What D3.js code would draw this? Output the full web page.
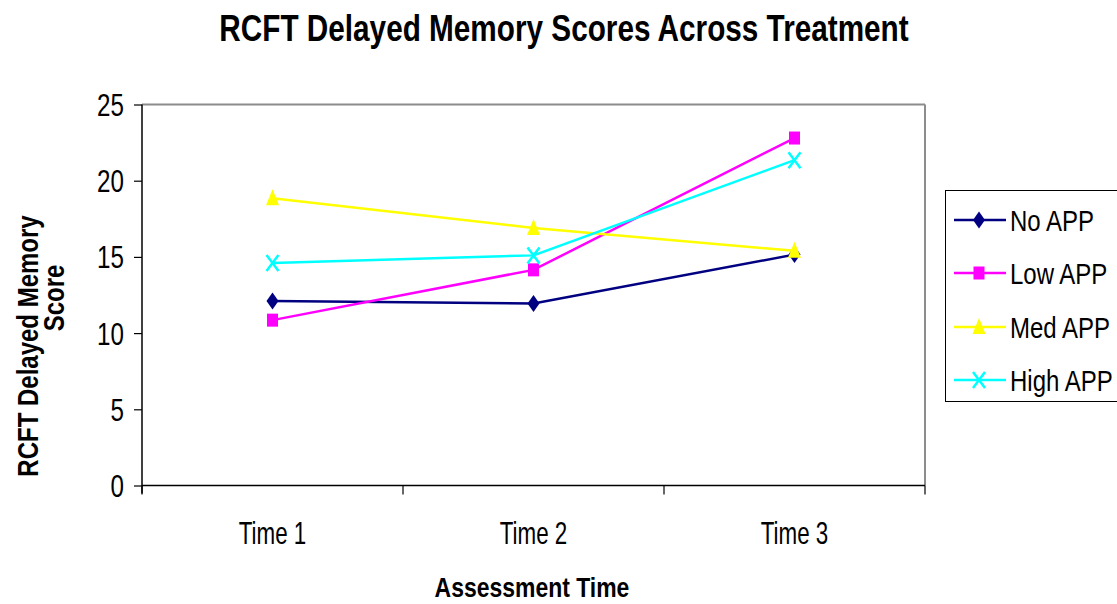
<!DOCTYPE html>
<html>
<head>
<meta charset="utf-8">
<script src="https://cdn.jsdelivr.net/npm/d3@7"></script>
<style>
  html, body { margin: 0; padding: 0; background: #fff; }
  svg { display: block; font-family: "Liberation Sans", Arial, sans-serif; }
</style>
</head>
<body>
<svg id="chart" width="1117" height="604"></svg>
<script>
// Assessment points and group scores
const categories = ["Time 1", "Time 2", "Time 3"];
const seriesNames = ["No APP", "Low APP", "Med APP", "High APP"];
const noApp   = [12.1, 11.95, 15.15];
const lowApp  = [10.85, 14.15, 22.8];
const medApp  = [18.85, 16.9, 15.4];
const highApp = [14.6, 15.1, 21.35];
const yTicks = [0, 5, 10, 15, 20, 25];

const seriesValues = [noApp, lowApp, medApp, highApp];
const seriesColors = ["#000080", "#ff00ff", "#ffff00", "#00ffff"];
const seriesMarkers = ["diamond", "square", "triangle", "cross"];

const svg = d3.select("#chart");
const plot = { left: 142, right: 925, top: 104.5, bottom: 485.5 };

const x = d3.scaleBand().domain(categories).range([plot.left, plot.right]).padding(0);
const y = d3.scaleLinear().domain([0, 25]).range([plot.bottom, plot.top]);

// Condensed text helper: horizontal squeeze to mimic a narrow face
function label(parent, tx, ty, str, opts) {
  const g = parent.append("g")
    .attr("transform", `translate(${tx},${ty}) rotate(${opts.rotate || 0}) scale(${opts.sx},1)`);
  g.append("text")
    .attr("text-anchor", opts.anchor || "middle")
    .attr("font-size", opts.size)
    .attr("font-weight", opts.bold ? "bold" : "normal")
    .attr("fill", "#000")
    .text(str);
  return g;
}

// Plot frame: grey top/right edges
svg.append("line").attr("x1", plot.left).attr("x2", plot.right)
  .attr("y1", plot.top).attr("y2", plot.top).attr("stroke", "#8c8c8c").attr("stroke-width", 2);
svg.append("line").attr("x1", plot.right).attr("x2", plot.right)
  .attr("y1", plot.top).attr("y2", plot.bottom).attr("stroke", "#8c8c8c").attr("stroke-width", 2);

// Y axis
const yAxis = svg.append("g").attr("transform", `translate(${plot.left},0)`)
  .call(d3.axisLeft(y).tickValues(yTicks).tickSize(8).tickFormat(""));
yAxis.select(".domain").attr("stroke", "#000").attr("stroke-width", 1.5).attr("d", `M0,${plot.top}V${plot.bottom + 8}`);
yAxis.selectAll(".tick line").attr("stroke", "#000").attr("stroke-width", 1.2);
yTicks.forEach(t => label(svg, 124, y(t) + 11.5, String(t), { size: 31, sx: 0.78, anchor: "end" }));

// X axis with ticks at category boundaries
const boundaries = categories.map(c => x(c)).concat([plot.right]);
svg.append("line").attr("x1", plot.left).attr("x2", plot.right)
  .attr("y1", plot.bottom).attr("y2", plot.bottom).attr("stroke", "#000").attr("stroke-width", 1.5);
svg.selectAll(".xtick").data(boundaries).enter().append("line")
  .attr("class", "xtick")
  .attr("x1", d => d).attr("x2", d => d)
  .attr("y1", plot.bottom).attr("y2", plot.bottom + 9)
  .attr("stroke", "#000").attr("stroke-width", 1.2);
categories.forEach(c => label(svg, x(c) + x.bandwidth() / 2, 544, c, { size: 32, sx: 0.7 }));

// Marker shapes (slightly taller than wide)
function drawMarker(g, type, cx, cy, color) {
  if (type === "diamond") {
    g.append("path").attr("d", `M${cx},${cy - 8.5}L${cx + 6},${cy}L${cx},${cy + 8.5}L${cx - 6},${cy}Z`).attr("fill", color);
  } else if (type === "square") {
    g.append("rect").attr("x", cx - 5.5).attr("y", cy - 6.5).attr("width", 11).attr("height", 13).attr("fill", color);
  } else if (type === "triangle") {
    g.append("path").attr("d", `M${cx},${cy - 9}L${cx + 6.5},${cy + 7}L${cx - 6.5},${cy + 7}Z`).attr("fill", color);
  } else {
    g.append("path").attr("d", `M${cx - 6},${cy - 8}L${cx + 6},${cy + 8}M${cx - 6},${cy + 8}L${cx + 6},${cy - 8}`)
      .attr("stroke", color).attr("stroke-width", 2.5).attr("fill", "none");
  }
}

// Series lines and markers
const line = d3.line().x((d, i) => x(categories[i]) + x.bandwidth() / 2).y(d => y(d));
seriesValues.forEach((vals, si) => {
  const g = svg.append("g");
  g.append("path").datum(vals).attr("d", line)
    .attr("fill", "none").attr("stroke", seriesColors[si]).attr("stroke-width", 2.5);
  vals.forEach((v, i) => drawMarker(g, seriesMarkers[si], x(categories[i]) + x.bandwidth() / 2, y(v), seriesColors[si]));
});

// Titles
label(svg, 564, 41, "RCFT Delayed Memory Scores Across Treatment", { size: 36, sx: 0.826, bold: true });
label(svg, 532, 597, "Assessment Time", { size: 28, sx: 0.82, bold: true });
label(svg, 38, 346, "RCFT Delayed Memory", { size: 30, sx: 0.8, bold: true, rotate: -90 });
label(svg, 64, 298, "Score", { size: 30, sx: 0.8, bold: true, rotate: -90 });

// Legend
const legend = svg.append("g");
legend.append("rect").attr("x", 945.5).attr("y", 190.5).attr("width", 200).attr("height", 211)
  .attr("fill", "#fff").attr("stroke", "#000").attr("stroke-width", 1);
const legendY = [220, 273, 327, 380];
seriesNames.forEach((name, i) => {
  const ly = legendY[i];
  legend.append("line").attr("x1", 954).attr("x2", 1006).attr("y1", ly).attr("y2", ly)
    .attr("stroke", seriesColors[i]).attr("stroke-width", 2.5);
  drawMarker(legend, seriesMarkers[i], 979, ly, seriesColors[i]);
  label(legend, 1010, ly + 11, name, { size: 30, sx: 0.8, anchor: "start" });
});
</script>
</body>
</html>
